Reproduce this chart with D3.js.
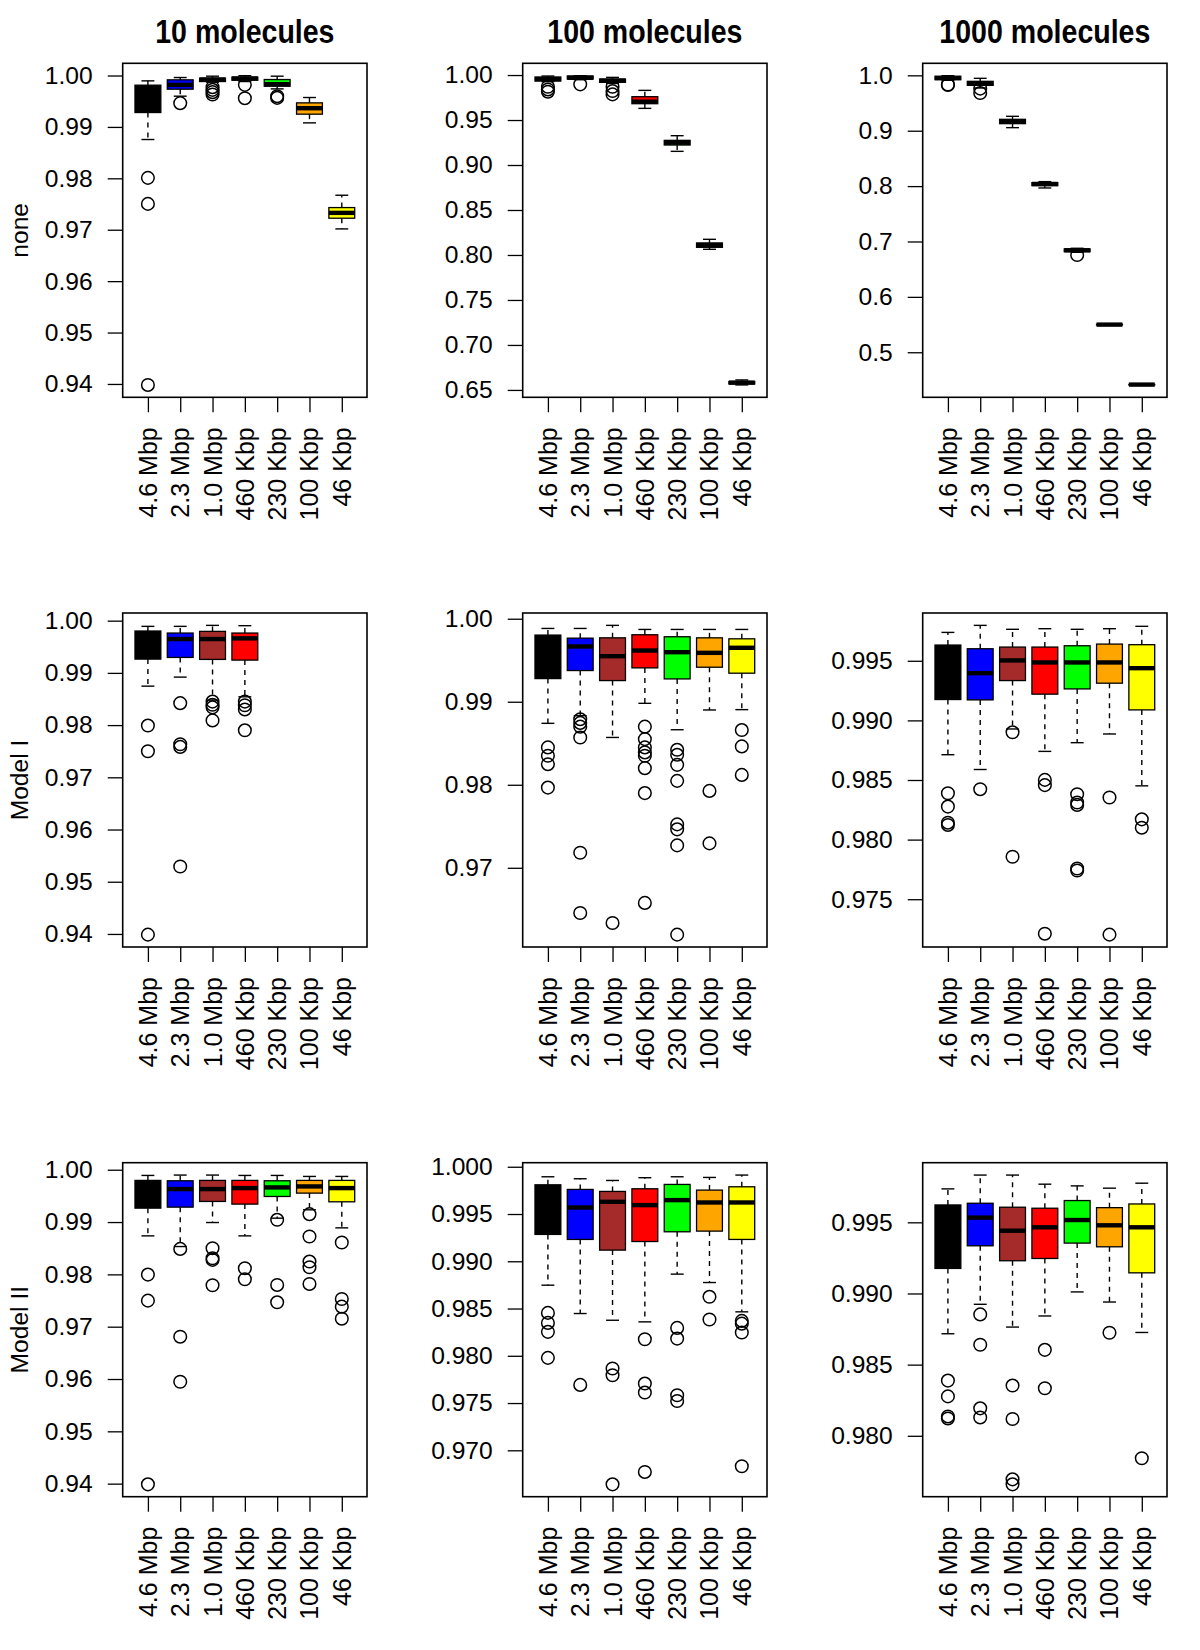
<!DOCTYPE html>
<html><head><meta charset="utf-8">
<script src="https://cdn.jsdelivr.net/npm/d3@7"></script>
<style>
body{margin:0;background:#fff}
text{font-family:"Liberation Sans",Arial,Helvetica,sans-serif;fill:#000}
</style>
</head><body>
<svg id="chart" width="1200" height="1650"></svg>
<script>
// ---------- categories / labels ----------
const categories = ["4.6 Mbp","2.3 Mbp","1.0 Mbp","460 Kbp","230 Kbp","100 Kbp","46 Kbp"];
const boxColors = ["#000000","#0000FF","#A52A2A","#FF0000","#00FF00","#FFA500","#FFFF00"];
const columnTitles = ["10 molecules","100 molecules","1000 molecules"];
const rowLabels = ["none","Model I","Model II"];

// ---------- stats per category: [lower whisker, Q1, median, Q3, upper whisker] ----------
const none10Stats = [
  [0.98755,0.99280,0.99600,0.99812,0.99896],
  [0.99598,0.99734,0.99818,0.99916,0.99961],
  [0.99870,0.99883,0.99922,0.99948,0.99987],
  [0.99883,0.99909,0.99942,0.99968,0.99997],
  [0.99740,0.99792,0.99831,0.99922,0.99987],
  [0.99079,0.99248,0.99364,0.99468,0.99572],
  [0.97016,0.97224,0.97328,0.97431,0.97671]];
const none10Outliers = [[0.98009,0.97503,0.93981],[0.99462],[0.99773,0.99721,0.99676,0.99630],[0.99818,0.99559],[0.99598,0.99565],[],[]];
const none10TickLabels = ["0.94","0.95","0.96","0.97","0.98","0.99","1.00"];

const none100Stats = [
  [0.9926,0.99333,0.99556,0.99778,0.9989],
  [0.9948,0.99556,0.9970,0.9989,0.99930],
  [0.9907,0.99185,0.9937,0.99556,0.9974],
  [0.96296,0.96815,0.97037,0.97593,0.98296],
  [0.91519,0.92222,0.92481,0.92741,0.93259],
  [0.8063,0.80852,0.81111,0.81333,0.81741],
  [0.65556,0.65667,0.65815,0.65926,0.66111]];
const none100Outliers = [[0.9870,0.9840,0.9815],[0.98963],[0.9870,0.9822,0.9785],[],[],[],[]];
const none100TickLabels = ["0.65","0.70","0.75","0.80","0.85","0.90","0.95","1.00"];

const none1000Stats = [
  [0.991,0.9922,0.9952,0.9982,0.9994],
  [0.97714,0.98195,0.98556,0.98917,0.9946],
  [0.90553,0.91276,0.91637,0.92058,0.926],
  [0.79663,0.80084,0.80385,0.80626,0.80806],
  [0.6805,0.68171,0.68412,0.68652,0.68773],
  [0.5488,0.5492,0.5499,0.5506,0.5510],
  [0.4410,0.4413,0.4416,0.4419,0.4423]];
const none1000Outliers = [[0.9835,0.9826],[0.9760,0.9680],[],[],[0.6755],[],[]];
const none1000TickLabels = ["0.5","0.6","0.7","0.8","0.9","1.0"];

const model1_10Stats = [
  [0.98746,0.99264,0.9962,0.99802,0.99891],
  [0.98919,0.99296,0.99648,0.99763,0.99891],
  [0.98478,0.99258,0.99648,0.99795,0.9991],
  [0.98542,0.99245,0.99661,0.99763,0.99904]];
const model1_10Outliers = [[0.97991,0.97499,0.93987],[0.9842,0.97633,0.97582,0.95292],[0.9845,0.9839,0.9834,0.9809],[0.9845,0.9838,0.9830,0.9790]];
const model1_10TickLabels = ["0.94","0.95","0.96","0.97","0.98","0.99","1.00"];

const model1_100Stats = [
  [0.9874,0.99279,0.9960,0.99803,0.99883],
  [0.98832,0.99376,0.99666,0.99766,0.99883],
  [0.9857,0.99255,0.99549,0.9977,0.9992],
  [0.98981,0.99408,0.99617,0.99807,0.99871],
  [0.98663,0.99275,0.99597,0.99783,0.99871],
  [0.98901,0.99416,0.99589,0.9977,0.99871],
  [0.98905,0.99344,0.9965,0.99758,0.99871]];
const model1_100Outliers = [
  [0.9845,0.98349,0.98248,0.97966],
  [0.9879,0.98745,0.9870,0.9857,0.97181,0.96456],
  [0.96335],
  [0.9870,0.9855,0.9845,0.9839,0.9835,0.9820,0.9790,0.96577],
  [0.98421,0.98361,0.9824,0.98047,0.97523,0.97463,0.9727,0.96195],
  [0.97926,0.97294],
  [0.98659,0.98462,0.98119]];
const model1_100TickLabels = ["0.97","0.98","0.99","1.00"];

const model1_1000Stats = [
  [0.98712,0.99175,0.9945,0.99632,0.99738],
  [0.98588,0.99172,0.99396,0.99601,0.99797],
  [0.98928,0.99334,0.99503,0.99615,0.99764],
  [0.9874,0.9922,0.99486,0.99615,0.99769],
  [0.98813,0.99264,0.99486,0.99626,0.99764],
  [0.98886,0.99312,0.99486,0.9964,0.99769],
  [0.98451,0.99088,0.99438,0.99635,0.99789]];
const model1_1000Outliers = [
  [0.98389,0.98277,0.98142,0.98123],
  [0.98423],
  [0.9890,0.97856],
  [0.98501,0.98457,0.97211],
  [0.98381,0.98311,0.98291,0.97758,0.97741],
  [0.98353,0.97203],
  [0.9817,0.9810]];
const model1_1000TickLabels = ["0.975","0.980","0.985","0.990","0.995"];

const model2_10Stats = [
  [0.98736,0.99266,0.9962,0.99796,0.99891],
  [0.98532,0.99285,0.9963,0.99789,0.99898],
  [0.98991,0.99394,0.9963,0.99796,0.99898],
  [0.98736,0.99343,0.99649,0.99796,0.99891],
  [0.99074,0.99489,0.99662,0.99789,0.99891],
  [0.99234,0.99553,0.99681,0.99796,0.99872],
  [0.98889,0.99387,0.99649,0.99796,0.99872]];
const model2_10Outliers = [
  [0.97996,0.97498,0.93987],
  [0.98487,0.96809,0.95947],
  [0.9850,0.98309,0.98277,0.97792],
  [0.98117,0.97906],
  [0.99043,0.97798,0.97466],
  [0.99151,0.98723,0.98245,0.98136,0.97817],
  [0.98609,0.9753,0.97383,0.97153]];
const model2_10TickLabels = ["0.94","0.95","0.96","0.97","0.98","0.99","1.00"];

const model2_100Stats = [
  [0.98747,0.99284,0.9960,0.99809,0.99894],
  [0.98447,0.99231,0.99569,0.9976,0.99873],
  [0.98376,0.99118,0.99629,0.99739,0.99855],
  [0.98359,0.99209,0.99594,0.99767,0.99884],
  [0.98864,0.99312,0.99647,0.99813,0.99894],
  [0.98775,0.99319,0.99622,0.99753,0.99887],
  [0.98465,0.99231,0.99622,0.99788,0.99912]];
const model2_100Outliers = [
  [0.98454,0.98348,0.98253,0.97978],
  [0.97692],
  [0.97865,0.97794,0.9664],
  [0.98175,0.97706,0.97611,0.96771],
  [0.98295,0.98182,0.97582,0.97522],
  [0.98624,0.98384],
  [0.98369,0.98340,0.98246,0.96831]];
const model2_100TickLabels = ["0.970","0.975","0.980","0.985","0.990","0.995","1.000"];

const model2_1000Stats = [
  [0.98717,0.99176,0.9945,0.99622,0.99735],
  [0.98924,0.99335,0.99533,0.99634,0.99832],
  [0.98764,0.9923,0.99441,0.99606,0.99832],
  [0.98842,0.99246,0.99465,0.99599,0.99768],
  [0.99011,0.99354,0.99516,0.99653,0.99756],
  [0.9894,0.99328,0.99479,0.99603,0.9974],
  [0.98726,0.99145,0.99465,0.99629,0.99775]];
const model2_1000Outliers = [
  [0.98388,0.98277,0.98136,0.98122],
  [0.98853,0.9864,0.98193,0.98129],
  [0.98353,0.98118,0.97694,0.97659],
  [0.98604,0.98334],
  [],
  [0.98724],
  [0.97842]];
const model2_1000TickLabels = ["0.980","0.985","0.990","0.995"];

const panels = [
  {row:0,col:0,stats:none10Stats,outliers:none10Outliers,ticks:none10TickLabels},
  {row:0,col:1,stats:none100Stats,outliers:none100Outliers,ticks:none100TickLabels},
  {row:0,col:2,stats:none1000Stats,outliers:none1000Outliers,ticks:none1000TickLabels},
  {row:1,col:0,stats:model1_10Stats,outliers:model1_10Outliers,ticks:model1_10TickLabels},
  {row:1,col:1,stats:model1_100Stats,outliers:model1_100Outliers,ticks:model1_100TickLabels},
  {row:1,col:2,stats:model1_1000Stats,outliers:model1_1000Outliers,ticks:model1_1000TickLabels},
  {row:2,col:0,stats:model2_10Stats,outliers:model2_10Outliers,ticks:model2_10TickLabels},
  {row:2,col:1,stats:model2_100Stats,outliers:model2_100Outliers,ticks:model2_100TickLabels},
  {row:2,col:2,stats:model2_1000Stats,outliers:model2_1000Outliers,ticks:model2_1000TickLabels}
];

// ---------- layout ----------
const L = {left0:122.7, top0:63.3, colStep:400, rowStep:549.7, w:244.3, h:334, tickFont:24.6, labFont:25};
const svg = d3.select("#chart");

panels.forEach(p => {
  const left = L.left0 + p.col*L.colStep;
  const top = L.top0 + p.row*L.rowStep;
  const bottom = top + L.h;
  const g = svg.append("g");

  const vals = p.stats.flat().concat(p.outliers.flat());
  const mn = d3.min(vals), mx = d3.max(vals), ext = (mx-mn)*0.04;
  const y = d3.scaleLinear().domain([mn-ext, mx+ext]).range([bottom, top]);
  const n = categories.length;
  const x = d3.scaleLinear().domain([0.5-0.04*n, n+0.5+0.04*n]).range([left, left+L.w]);
  const unit = x(2)-x(1);
  const bw = 0.8*unit, sw = 0.4*unit;

  // y axis
  const ya = g.append("g").attr("transform",`translate(${left},0)`)
    .call(d3.axisLeft(y).tickValues(p.ticks.map(Number)).tickFormat((d,i)=>p.ticks[i]).tickSize(15).tickPadding(15));
  ya.select(".domain").remove();
  ya.selectAll("line").attr("stroke","#000").attr("stroke-width",1.3);
  ya.selectAll("text").style("font-size",L.tickFont+"px").attr("font-family",null);

  // x axis
  const xa = g.append("g").attr("transform",`translate(0,${bottom})`)
    .call(d3.axisBottom(x).tickValues(d3.range(1,n+1)).tickFormat("").tickSize(15));
  xa.select(".domain").remove();
  xa.selectAll("line").attr("stroke","#000").attr("stroke-width",1.3);
  g.selectAll(".xlab").data(categories).enter().append("text")
    .attr("transform",(d,i)=>`translate(${x(i+1)},${bottom+30}) rotate(-90)`)
    .attr("text-anchor","end").attr("dy","0.36em")
    .style("font-size",L.labFont+"px").text(d=>d);

  // boxes
  p.stats.forEach((s,i) => {
    const cx = x(i+1);
    const [lo,q1,med,q3,hi] = s;
    g.append("line").attr("x1",cx).attr("x2",cx).attr("y1",y(q3)).attr("y2",y(hi))
      .attr("stroke","#000").attr("stroke-width",1.4).attr("stroke-dasharray","5,5");
    g.append("line").attr("x1",cx).attr("x2",cx).attr("y1",y(q1)).attr("y2",y(lo))
      .attr("stroke","#000").attr("stroke-width",1.4).attr("stroke-dasharray","5,5");
    [lo,hi].forEach(v => g.append("line").attr("x1",cx-sw/2).attr("x2",cx+sw/2)
      .attr("y1",y(v)).attr("y2",y(v)).attr("stroke","#000").attr("stroke-width",1.4));
    g.append("rect").attr("x",cx-bw/2).attr("width",bw)
      .attr("y",y(q3)).attr("height",Math.max(0.5,y(q1)-y(q3)))
      .attr("fill",boxColors[i]).attr("stroke","#000").attr("stroke-width",1.3);
    g.append("line").attr("x1",cx-bw/2).attr("x2",cx+bw/2).attr("y1",y(med)).attr("y2",y(med))
      .attr("stroke","#000").attr("stroke-width",4.4);
    p.outliers[i].forEach(v => g.append("circle").attr("cx",cx).attr("cy",y(v)).attr("r",6.3)
      .attr("fill","none").attr("stroke","#000").attr("stroke-width",1.5));
  });

  // frame
  g.append("rect").attr("x",left).attr("y",top).attr("width",L.w).attr("height",L.h)
    .attr("fill","none").attr("stroke","#000").attr("stroke-width",1.6);

  if (p.row === 0) {
    svg.append("text").attr("transform",`translate(${left+L.w/2},${top-20}) scale(0.84,1)`)
      .attr("text-anchor","middle").style("font-size","34px").style("font-weight","bold")
      .text(columnTitles[p.col]);
  }
  if (p.col === 0) {
    svg.append("text").attr("transform",`translate(19,${(top+bottom)/2}) rotate(-90)`)
      .attr("text-anchor","middle").attr("dy","0.36em").style("font-size",L.tickFont+"px")
      .text(rowLabels[p.row]);
  }
});
</script>
</body></html>
